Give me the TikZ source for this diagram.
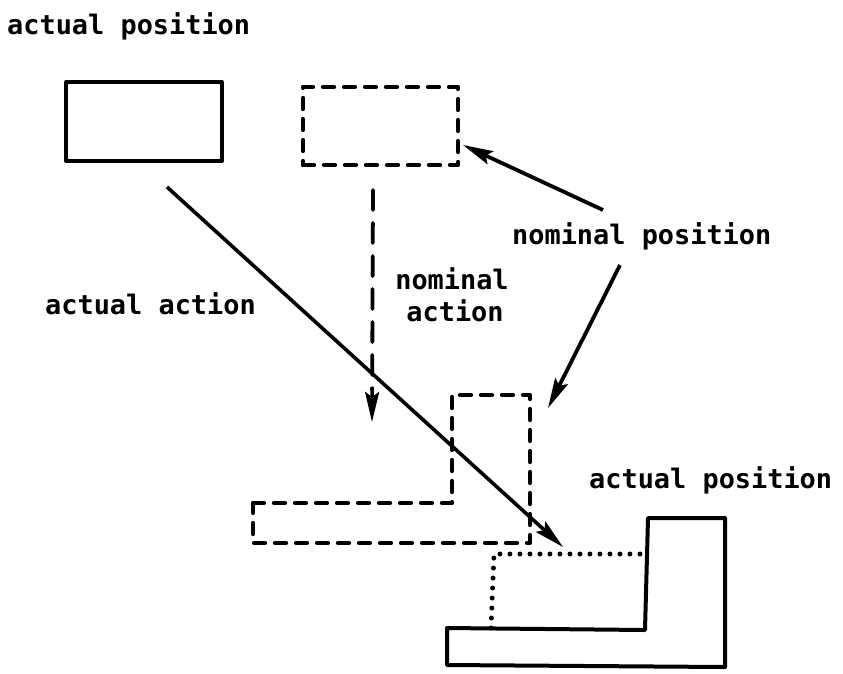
\documentclass[tikz,border=0pt]{standalone}
\usepackage{fontspec}
\newfontfamily\plotfont{DejaVu Sans Mono}
\usetikzlibrary{arrows.meta,calc}
\begin{document}
\begin{tikzpicture}[x=1pt,y=-1pt,
  lbl/.style={font=\plotfont\bfseries\fontsize{26.9}{32}\selectfont, inner sep=0pt, anchor=base west},
  outline/.style={draw, line width=4pt, line join=round},
  dashline/.style={draw, line width=4.2pt, dash pattern=on 11pt off 10pt, line cap=round, line join=round},
  dots/.style={draw, line width=5pt, dash pattern=on 0pt off 10pt, line cap=round},
  tip/.style={-{Stealth[length=30pt,width=14pt,inset=5pt]}},
  pointer/.style={draw, line width=3.8pt, tip}
]
\useasboundingbox (0,0) rectangle (843,673);

% labels
\node[lbl] (tl-label) at (7,34) {actual position};
\node[lbl] (aa-label) at (45,314) {actual action};
\node[lbl] (np-label) at (512,244) {nominal position};
\node[lbl, anchor=base] (na-label1) at (452,289) {nominal};
\node[lbl, anchor=base] (na-label2) at (455,321) {action};
\node[lbl] (ap-label) at (589,488) {actual position};

% starting boxes
\node[outline, minimum width=156pt, minimum height=79pt, inner sep=0pt] (actbox) at (144,121.5) {};
\node[dashline, minimum width=155pt, minimum height=78pt, inner sep=0pt] (nombox) at (380.5,126) {};

% nominal end position (dashed L)
\draw[dashline] (253,503) -- (452,503) -- (452,395) -- (530,395) -- (530,543) -- (253,543) -- cycle;

% actual end position (solid L) with its hidden part dotted
\draw[outline] (447,628) -- (645,630) -- (648,518) -- (725,518) -- (725,667) -- (447,665) -- cycle;
\draw[dots] (491,628) -- (494,554) -- (645,554);

% connector end points
\coordinate (aa-start) at (167,187);
\coordinate (aa-end) at (563,547);
\coordinate (na-start) at (373,190);
\coordinate (na-end) at (372,422);
\coordinate (np-a) at (603,210);
\coordinate (np-a-end) at (463,145);
\coordinate (np-b) at (620,265);
\coordinate (np-b-end) at (548,408);

% actions
\draw[line width=3.6pt, tip] (aa-start) -- (aa-end);
\draw[line width=3.8pt, dash pattern=on 20pt off 13pt, line cap=round] (na-start) -- ($(na-start)!0.86!(na-end)$);
\draw[line width=3.6pt, tip] ($(na-start)!0.85!(na-end)$) -- (na-end);

% pointers from the nominal position label
\draw[pointer] (np-a) -- (np-a-end);
\draw[pointer] (np-b) -- (np-b-end);
\end{tikzpicture}
\end{document}
